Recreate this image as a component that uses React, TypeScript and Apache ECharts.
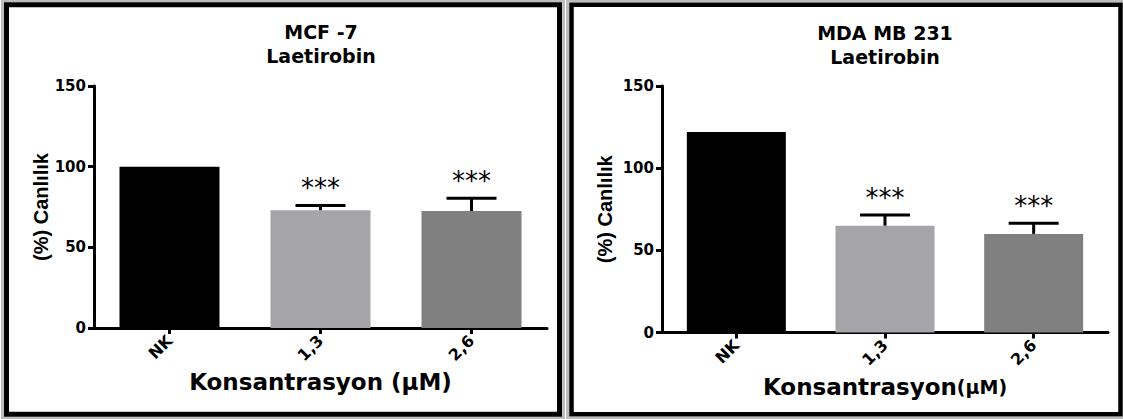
import React, { useEffect, useRef } from 'react';
import * as echarts from 'echarts';

const categories = ['NK', '1,3', '2,6'];
const mcfMeans = [100, 73, 72.5];
const mcfSem = [0, 3, 8];
const mdaMeans = [122, 65, 60];
const mdaSem = [0, 6.5, 6.5];
const significance = ['', '***', '***'];
const barColors = ['#000000', '#a4a4a9', '#808080'];
const panelTitles = ['MCF -7\nLaetirobin', 'MDA MB 231\nLaetirobin'];
const yAxisTitle = '(%) Canlılık';
const xAxisTitles = ['Konsantrasyon (µM)', 'Konsantrasyon{s|(µM)}'];

const HFONT = 'DejaVu Sans';

function makeErrorRender(sig: string[]) {
  return (params: any, api: any) => {
    const i = api.value(0);
    const mean = api.value(1);
    const upper = api.value(2);
    const base = api.coord([i, mean]);
    const top = api.coord([i, upper]);
    const children: any[] = [];
    if (upper > mean) {
      children.push({
        type: 'line',
        shape: { x1: top[0], y1: base[1], x2: top[0], y2: top[1] },
        style: { stroke: '#000', lineWidth: 3 },
      });
      children.push({
        type: 'line',
        shape: { x1: top[0] - 25, y1: top[1], x2: top[0] + 25, y2: top[1] },
        style: { stroke: '#000', lineWidth: 3 },
      });
    }
    const s = sig[params.dataIndex];
    if (s) {
      children.push({
        type: 'text',
        x: top[0],
        y: top[1] - 17,
        style: {
          text: s,
          fill: '#000',
          fontFamily: HFONT,
          fontSize: 26,
          align: 'center',
          verticalAlign: 'middle',
        },
      });
    }
    return { type: 'group', children };
  };
}

function axisPair(idx: number, nameGapY: number, nameGapX: number) {
  const labelStyle = { color: '#000', fontFamily: HFONT, fontWeight: 'bold' as const };
  return {
    x: {
      gridIndex: idx,
      type: 'category',
      data: categories,
      axisLine: { show: true, lineStyle: { color: '#000', width: 3 } },
      axisTick: { show: true, alignWithLabel: true, length: 6, lineStyle: { color: '#000', width: 3 } },
      axisLabel: { ...labelStyle, fontSize: 16, rotate: 45, margin: 10 },
      name: xAxisTitles[idx],
      nameLocation: 'middle',
      nameGap: nameGapX,
      nameTextStyle: {
        ...labelStyle,
        fontSize: 23,
        verticalAlign: 'top',
        rich: { s: { color: '#000', fontFamily: HFONT, fontWeight: 'bold', fontSize: 19 } },
      },
    },
    y: {
      gridIndex: idx,
      type: 'value',
      min: 0,
      max: 150,
      interval: 50,
      splitLine: { show: false },
      axisLine: { show: true, lineStyle: { color: '#000', width: 3 } },
      axisTick: { show: true, length: 6, lineStyle: { color: '#000', width: 3 } },
      axisLabel: { ...labelStyle, fontSize: 15, margin: 8 },
      name: yAxisTitle,
      nameLocation: 'middle',
      nameGap: nameGapY,
      nameTextStyle: { color: '#000', fontFamily: 'Liberation Sans', fontWeight: 'bold', fontSize: 20 },
    },
  };
}

export default function App() {
  const ref = useRef<HTMLDivElement>(null);
  useEffect(() => {
    if (!ref.current) return;
    const chart = echarts.init(ref.current, undefined, { renderer: 'svg' });
    const a0 = axisPair(0, 41, 42);
    const a1 = axisPair(1, 47, 40);
    const barData = (vals: number[]) =>
      vals.map((v, i) => ({ value: v, itemStyle: { color: barColors[i] } }));
    const errData = (vals: number[], sem: number[]) => vals.map((v, i) => [i, v, v + sem[i]]);
    const frameStyle = { fill: 'none', stroke: '#000', lineWidth: 5 };
    const shadowStyle = { fill: 'none', stroke: '#bdbdbd', lineWidth: 3 };
    chart.setOption({
      animation: false,
      backgroundColor: '#ffffff',
      grid: [
        { left: 94, top: 86, width: 453, height: 242 },
        { left: 662, top: 86, width: 446, height: 246.5 },
      ],
      xAxis: [a0.x, a1.x],
      yAxis: [a0.y, a1.y],
      series: [
        { type: 'bar', xAxisIndex: 0, yAxisIndex: 0, barWidth: 100, data: barData(mcfMeans) },
        { type: 'bar', xAxisIndex: 1, yAxisIndex: 1, barWidth: 99, data: barData(mdaMeans) },
        {
          type: 'custom', xAxisIndex: 0, yAxisIndex: 0, z: 5,
          renderItem: makeErrorRender(significance), data: errData(mcfMeans, mcfSem),
        },
        {
          type: 'custom', xAxisIndex: 1, yAxisIndex: 1, z: 5,
          renderItem: makeErrorRender(significance), data: errData(mdaMeans, mdaSem),
        },
      ],
      graphic: [
        { type: 'rect', z: 0, shape: { x: 2.5, y: 0.8, width: 561, height: 417.5 }, style: shadowStyle },
        { type: 'rect', z: 0, shape: { x: 567.5, y: 0.8, width: 557, height: 417.5 }, style: shadowStyle },
        { type: 'rect', z: 1, shape: { x: 6.5, y: 4.8, width: 553, height: 409.5 }, style: frameStyle },
        { type: 'rect', z: 1, shape: { x: 571.5, y: 4.8, width: 549, height: 409.5 }, style: { ...frameStyle, lineWidth: 4.5 } },
        {
          type: 'text', z: 2, x: 321, y: 44,
          style: { text: panelTitles[0], fill: '#000', fontFamily: HFONT, fontWeight: 'bold', fontSize: 19, lineHeight: 24, align: 'center', verticalAlign: 'middle' },
        },
        {
          type: 'text', z: 2, x: 885, y: 45,
          style: { text: panelTitles[1], fill: '#000', fontFamily: HFONT, fontWeight: 'bold', fontSize: 19, lineHeight: 24, align: 'center', verticalAlign: 'middle' },
        },
      ],
    });
    return () => chart.dispose();
  }, []);
  return <div ref={ref} style={{ position: 'absolute', left: 0, top: 0, width: 1123, height: 419 }} />;
}
